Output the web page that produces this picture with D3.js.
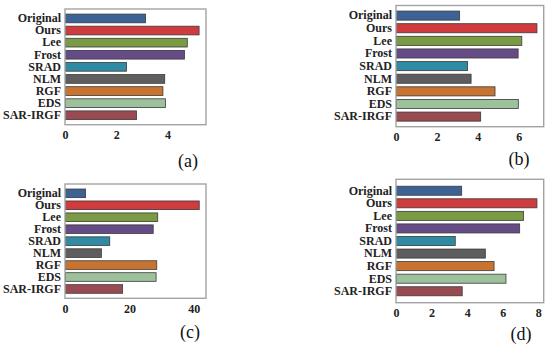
<!DOCTYPE html>
<html lang="en">
<head>
<meta charset="UTF-8">
<title>Method comparison</title>
<style>
    body, html {
        margin: 0;
        padding: 0;
        background: #fff;
    }
</style>
</head>
<body>
<svg id="svg" width="550" height="347"></svg>
<script src="https://d3js.org/d3.v7.min.js"></script>
<script>
    // categories and values
    const methods = ["Original", "Ours", "Lee", "Frost", "SRAD", "NLM", "RGF", "EDS", "SAR-IRGF"];
    const colors = ["#3d6396", "#d03b3e", "#7a9a44", "#664c87", "#2f8ba3", "#5e5e5e", "#c8732f", "#9dc29b", "#9a4b52"];

    const valuesA = [3.14, 5.23, 4.77, 4.66, 2.40, 3.89, 3.82, 3.92, 2.79];
    const valuesB = [3.11, 6.89, 6.15, 5.97, 3.50, 3.67, 4.84, 5.98, 4.14];
    const valuesC = [6.4, 41.7, 28.8, 27.4, 13.9, 11.3, 28.5, 28.3, 17.9];
    const valuesD = [3.69, 7.92, 7.17, 6.95, 3.33, 5.02, 5.51, 6.18, 3.72];

    const ticksA = [0, 2, 4];
    const ticksB = [0, 2, 4, 6];
    const ticksC = [0, 20, 40];
    const ticksD = [0, 2, 4, 6, 8];

    const panelNames = ["(a)", "(b)", "(c)", "(d)"];

    const serif = '"Liberation Serif", "Times New Roman", Times, "DejaVu Serif", serif';

    // layout of each panel (frame box, axis max, label position)
    const panels = [
        { values: valuesA, ticks: ticksA, max: 5.5, x0: 65, x1: 206, y0: 9, y1: 124.7, po: 0.42, lx: 188, ly: 167 },
        { values: valuesB, ticks: ticksB, max: 7.22, x0: 396, x1: 543.7, y0: 5.5, y1: 126.7, po: 0.44, lx: 519, ly: 165 },
        { values: valuesC, ticks: ticksC, max: 43.8, x0: 65, x1: 206, y0: 184, y1: 298.3, po: 0.42, lx: 190, ly: 338 },
        { values: valuesD, ticks: ticksD, max: 8.3, x0: 396, x1: 543.7, y0: 179.3, y1: 302.7, po: 0.55, lx: 521, ly: 340 }
    ];

    const svg = d3.select('#svg');

    panels.forEach((p, i) => {
        const g = svg.append('g');

        const xscale = d3.scaleLinear()
            .domain([0, p.max])
            .range([p.x0, p.x1]);

        const yscale = d3.scaleBand()
            .domain(methods)
            .range([p.y0, p.y1])
            .paddingInner(0.28)
            .paddingOuter(p.po);

        const data = methods.map((m, j) => ({ name: m, value: p.values[j], color: colors[j] }));

        // bars
        g.selectAll('rect.bar')
            .data(data)
            .join('rect')
            .attr('class', 'bar')
            .attr('x', xscale(0) + 0.5)
            .attr('y', d => yscale(d.name))
            .attr('width', d => xscale(d.value) - xscale(0) - 0.5)
            .attr('height', yscale.bandwidth())
            .attr('fill', d => d.color)
            .attr('stroke', '#3a3a3a')
            .attr('stroke-width', 0.8);

        // frame
        g.append('rect')
            .attr('x', p.x0)
            .attr('y', p.y0)
            .attr('width', p.x1 - p.x0)
            .attr('height', p.y1 - p.y0)
            .attr('fill', 'none')
            .attr('stroke', '#a3a3a3')
            .attr('stroke-width', 1.4);

        // category labels
        const leftAxis = d3.axisLeft(yscale).tickSize(0).tickPadding(4);
        g.append('g')
            .attr('transform', `translate(${p.x0}, 0)`)
            .call(leftAxis)
            .call(ax => ax.select('.domain').remove())
            .selectAll('text')
            .style('font-family', serif)
            .style('font-weight', 'bold')
            .style('font-size', '12px')
            .style('fill', '#222');

        // value ticks
        const bottomAxis = d3.axisBottom(xscale)
            .tickValues(p.ticks)
            .tickFormat(d3.format('d'))
            .tickSize(0)
            .tickPadding(6);
        g.append('g')
            .attr('transform', `translate(0, ${p.y1})`)
            .call(bottomAxis)
            .call(ax => ax.select('.domain').remove())
            .selectAll('text')
            .style('font-family', serif)
            .style('font-weight', 'bold')
            .style('font-size', '12px')
            .style('fill', '#222');

        // panel label
        g.append('text')
            .attr('x', p.lx)
            .attr('y', p.ly)
            .style('font-family', serif)
            .style('font-size', '18px')
            .style('fill', '#111')
            .style('text-anchor', 'middle')
            .text(panelNames[i]);
    });
</script>
</body>
</html>
